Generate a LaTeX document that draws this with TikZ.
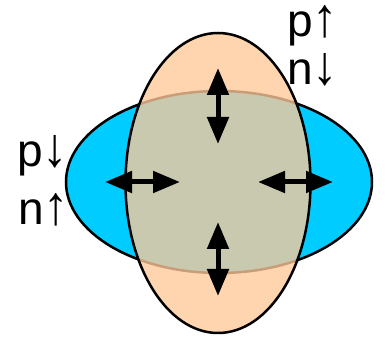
\documentclass[tikz,border=0pt]{standalone}
\usepackage{fontspec}
\usepackage{graphicx}
\setmainfont{Liberation Sans}
\usetikzlibrary{shapes.geometric,arrows.meta}
\definecolor{cyanfill}{RGB}{0,204,255}
\definecolor{peach}{RGB}{255,201,154}
\newcommand{\bigarr}[1]{\smash{\scalebox{1.1}[1.2]{#1}}}
\tikzset{
  blob/.style={ellipse, draw=black, line width=2.5pt, inner sep=0pt},
  dblarrow/.style={line width=5pt, {Triangle[length=27pt,width=21pt]}-{Triangle[length=27pt,width=21pt]}},
  lbl/.style={anchor=base west, inner sep=0pt, font=\fontsize{46}{46}\selectfont}
}
\begin{document}
\begin{tikzpicture}[x=1pt,y=1pt]
\useasboundingbox (0,0) rectangle (391,337);
\node[blob, fill=cyanfill, minimum width=306pt, minimum height=182pt] (h) at (219,155) {};
\node[blob, fill=peach, fill opacity=0.784, minimum width=185pt, minimum height=300pt] (v) at (218,154) {};
% arrows
\coordinate (t1) at (218,269); \coordinate (t2) at (218,193);
\coordinate (b1) at (218,115); \coordinate (b2) at (218,41);
\coordinate (l1) at (105,155); \coordinate (l2) at (180,155);
\coordinate (r1) at (258,155); \coordinate (r2) at (333,155);
\draw[dblarrow] (t1) -- (t2);
\draw[dblarrow] (b1) -- (b2);
\draw[dblarrow] (l1) -- (l2);
\draw[dblarrow] (r1) -- (r2);
% labels
\node[lbl] (pu) at (287,300) {p\bigarr{↑}};
\node[lbl] (nd) at (287,252) {n\bigarr{↓}};
\node[lbl] (pd) at (17,170) {p\bigarr{↓}};
\node[lbl] (nu) at (18,112) {n\bigarr{↑}};
\end{tikzpicture}
\end{document}
